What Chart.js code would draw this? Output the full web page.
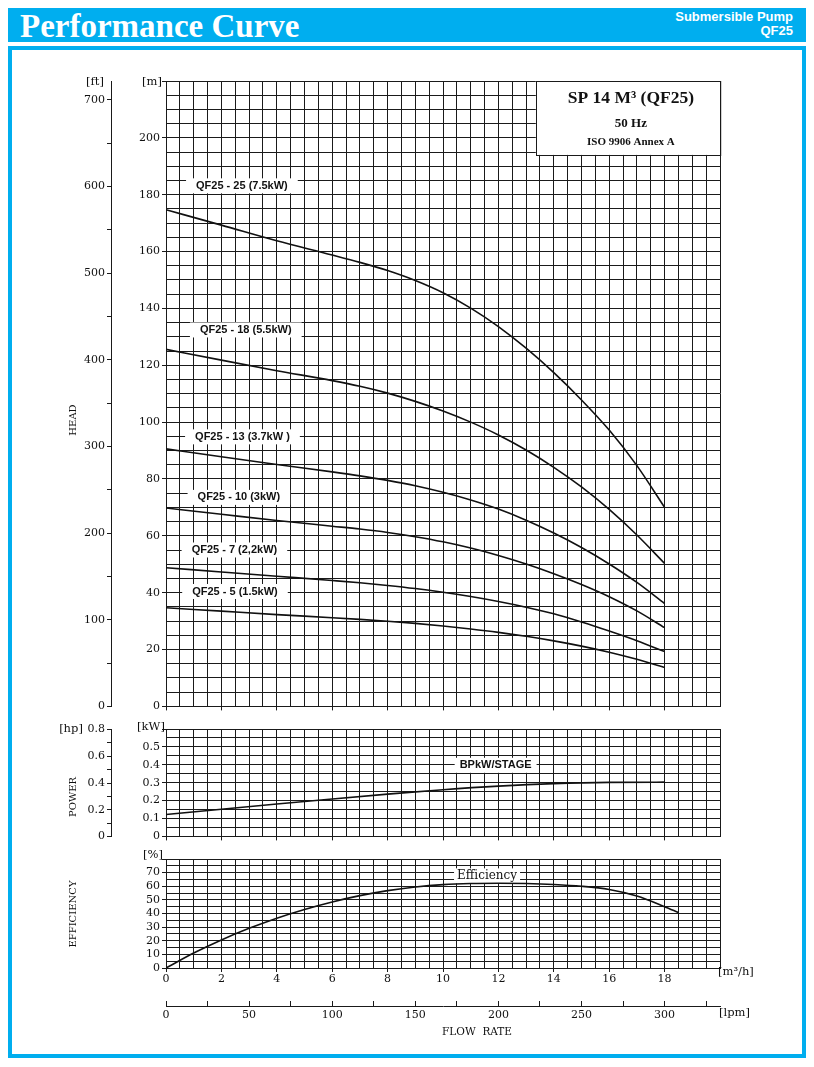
<!DOCTYPE html>
<html>
<head>
<meta charset="utf-8">
<script src="https://cdn.jsdelivr.net/npm/chart.js@4.4.1/dist/chart.umd.min.js"></script>
<style>
body{margin:0;background:#fff;}
#page{position:relative;width:814px;height:1067px;overflow:hidden;}
#bar{position:absolute;left:8px;top:8px;width:798px;height:34px;background:#00aeef;}
#title{position:absolute;left:12px;top:-2px;font:bold 33px "Liberation Serif",serif;color:#fff;line-height:40px;white-space:nowrap;}
#sub{position:absolute;right:13px;top:2px;font:bold 13px "Liberation Sans",Arial,sans-serif;color:#fff;text-align:right;line-height:14px;}
#frame{position:absolute;left:8px;top:46px;width:790px;height:1004px;border:4px solid #00aeef;}
canvas{position:absolute;left:0;}
</style>
</head>
<body>
<div id="page">
  <div id="bar"><div id="title">Performance Curve</div><div id="sub">Submersible Pump<br>QF25</div></div>
  <div id="frame"></div>
  <canvas id="head" width="814" height="655" style="top:60px"></canvas>
  <canvas id="power" width="814" height="125" style="top:720px"></canvas>
  <canvas id="eff" width="814" height="196" style="top:850px"></canvas>
</div>
<script>
// flow rate in m3/h
var flow = [0, 2, 4, 6, 7, 8, 9, 10, 11, 12, 13, 14, 15, 16, 17, 18];
// head in m, one list per pump model
var head25 = [174.7, 169.3, 163.8, 158.8, 156.2, 153.3, 149.8, 145.5, 140.1, 133.6, 126.0, 117.4, 107.8, 97.2, 84.7, 70.0];
var head18 = [125.6, 121.8, 118.1, 114.6, 112.6, 110.2, 107.3, 103.9, 100.0, 95.5, 90.2, 84.1, 77.2, 69.3, 60.3, 50.3];
var head13 = [90.6, 87.8, 85.1, 82.5, 81.1, 79.5, 77.6, 75.3, 72.6, 69.4, 65.5, 61.0, 55.9, 50.1, 43.6, 36.2];
var head10 = [69.8, 67.6, 65.4, 63.4, 62.4, 61.2, 59.7, 57.9, 55.7, 53.1, 50.1, 46.7, 42.9, 38.6, 33.6, 27.7];
var head7 = [48.8, 47.3, 45.8, 44.3, 43.5, 42.55, 41.45, 40.15, 38.65, 36.9, 34.9, 32.6, 29.7, 26.5, 23.1, 19.3];
var head5 = [34.7, 33.5, 32.3, 31.2, 30.6, 29.95, 29.2, 28.3, 27.25, 26.05, 24.65, 23.05, 21.2, 19.05, 16.55, 13.7];
var models = ['QF25 - 25 (7.5kW)', 'QF25 - 18 (5.5kW)', 'QF25 - 13 (3.7kW )', 'QF25 - 10 (3kW)', 'QF25 - 7 (2,2kW)', 'QF25 - 5 (1.5kW)'];

// power per stage (kW)
var powerFlow = [0, 2, 4, 6, 8, 10, 12, 14, 16, 18];
var power = [0.122, 0.152, 0.181, 0.209, 0.236, 0.261, 0.281, 0.295, 0.302, 0.303];

// efficiency (%)
var effFlow = [0, 1, 2, 3, 4, 5, 6, 7, 8, 9, 10, 11, 12, 13, 14, 15, 16, 17, 18, 18.5];
var eff = [0, 11, 20.6, 29.1, 36.6, 43, 48.5, 53.1, 56.8, 59.5, 61.2, 62, 62.2, 62, 61.3, 60, 57.6, 52.8, 45, 40.7];

var M_TO_FT = 3.28084, KW_TO_HP = 0.7457, M3H_TO_LPM = 1000 / 60;

// where the curve names sit (flow, head)
var modelLabelAt = [[2.74, 183.3], [2.88, 132.6], [2.76, 95], [2.63, 73.7], [2.47, 55.2], [2.49, 40.6]];

var ink = '#1a1a1a';
var tickFont = {family: 'DejaVu Serif', size: 11};

function near(v, step) { return Math.abs(v / step - Math.round(v / step)) < 1e-6; }

function xGrid() {
    return {color: ink, tickLength: 4,
        tickColor: function (c) { return (near(c.tick.value, 2) && c.tick.value < 19) ? ink : 'rgba(0,0,0,0)'; }};
}
function yGrid(step) {
    return {color: ink, tickLength: 4,
        tickColor: function (c) { return near(c.tick.value, step) ? ink : 'rgba(0,0,0,0)'; }};
}

function curve(xs, ys) {
    return {data: xs.map(function (x, i) { return {x: x, y: ys[i]}; }),
        borderColor: '#111', borderWidth: 1.6, pointRadius: 0, fill: false,
        cubicInterpolationMode: 'monotone'};
}

function boxLabel(ctx, text, x, y, font, pad) {
    ctx.save();
    ctx.font = font;
    var w = ctx.measureText(text).width;
    ctx.fillStyle = '#fff';
    ctx.fillRect(x - w / 2 - pad, y - 7, w + 2 * pad, 15);
    ctx.fillStyle = '#111';
    ctx.textAlign = 'center';
    ctx.textBaseline = 'middle';
    ctx.fillText(text, x, y + 0.5);
    ctx.restore();
}

function text(ctx, s, x, y, align, font) {
    ctx.save();
    ctx.font = font || '11.5px "DejaVu Serif"';
    ctx.fillStyle = '#111';
    ctx.textAlign = align || 'center';
    ctx.textBaseline = 'middle';
    ctx.fillText(s, x, y);
    ctx.restore();
}

function vtext(ctx, s, x, y) {
    ctx.save();
    ctx.translate(x, y);
    ctx.rotate(-Math.PI / 2);
    text(ctx, s, 0, 0, 'center', '10px "DejaVu Serif"');
    ctx.restore();
}

var common = {responsive: false, animation: false, plugins: {legend: {display: false}, tooltip: {enabled: false}}};

// ---------- HEAD ----------
new Chart(document.getElementById('head'), {
    type: 'line',
    data: {datasets: [head25, head18, head13, head10, head7, head5].map(function (h) { return curve(flow, h); })},
    options: Object.assign({}, common, {
        layout: {padding: {left: 20, right: 94, top: 21, bottom: 0}},
        scales: {
            x: {type: 'linear', min: 0, max: 20, ticks: {stepSize: 0.5, autoSkip: false, display: false},
                grid: xGrid(), border: {color: ink}, afterFit: function (s) { s.height = 6; }},
            y: {min: 0, max: 220, weight: 0,
                ticks: {stepSize: 5, autoSkip: false, padding: 2, color: '#111', font: tickFont,
                    callback: function (v) { return (near(v, 20) && v <= 200) ? v : ''; }},
                grid: yGrid(20), border: {color: ink}, afterFit: function (s) { s.width = 55; }},
            ft: {position: 'left', min: 0, max: 220 * M_TO_FT, weight: 1,
                ticks: {stepSize: 50, includeBounds: false, autoSkip: false, padding: 2, color: '#111', font: tickFont,
                    callback: function (v) { return near(v, 100) ? v : ''; }},
                grid: {drawOnChartArea: false, tickLength: 4, color: ink}, border: {color: ink},
                afterFit: function (s) { s.width = 91; }}
        }
    }),
    plugins: [{
        id: 'headNotes',
        beforeDatasetsDraw: function (chart) {
            var ctx = chart.ctx, x = chart.scales.x, y = chart.scales.y;
            models.forEach(function (m, i) {
                boxLabel(ctx, m, x.getPixelForValue(modelLabelAt[i][0]), y.getPixelForValue(modelLabelAt[i][1]),
                    'bold 11px "Liberation Sans"', 10);
            });
            // info box in the top right corner
            var l = x.getPixelForValue(13.35), b = y.getPixelForValue(194);
            var r = chart.chartArea.right, t = chart.chartArea.top;
            ctx.save();
            ctx.fillStyle = '#fff';
            ctx.fillRect(l, t, r - l, b - t);
            ctx.strokeStyle = ink;
            ctx.lineWidth = 1;
            ctx.strokeRect(Math.round(l) + 0.5, Math.round(t) + 0.5, r - l, Math.round(b - t));
            ctx.restore();
            var cx = (l + r) / 2 + 3;
            text(ctx, 'SP 14 M\u00b3 (QF25)', cx, t + 17, 'center', 'bold 17.5px "Liberation Serif"');
            text(ctx, '50 Hz', cx, t + 43, 'center', 'bold 13px "Liberation Serif"');
            text(ctx, 'ISO 9906 Annex A', cx, t + 61, 'center', 'bold 11px "Liberation Serif"');
        },
        afterDraw: function (chart) {
            var ctx = chart.ctx;
            text(ctx, '[ft]', 95, 22);
            text(ctx, '[m]', 152, 22);
            vtext(ctx, 'HEAD', 73, 360);
        }
    }]
});

// ---------- POWER ----------
new Chart(document.getElementById('power'), {
    type: 'line',
    data: {datasets: [curve(powerFlow, power)]},
    options: Object.assign({}, common, {
        layout: {padding: {left: 20, right: 94, top: 9, bottom: 0}},
        scales: {
            x: {type: 'linear', min: 0, max: 20, ticks: {stepSize: 0.5, autoSkip: false, display: false},
                grid: xGrid(), border: {color: ink}, afterFit: function (s) { s.height = 6; }},
            y: {min: 0, max: 0.6, weight: 0,
                ticks: {stepSize: 0.05, autoSkip: false, padding: 2, color: '#111', font: tickFont,
                    callback: function (v) { return (near(v, 0.1) && v < 0.55) ? (v === 0 ? '0' : v.toFixed(1)) : ''; }},
                grid: yGrid(0.1), border: {color: ink}, afterFit: function (s) { s.width = 55; }},
            hp: {position: 'left', min: 0, max: 0.6 / KW_TO_HP, weight: 1,
                ticks: {stepSize: 0.1, includeBounds: false, autoSkip: false, padding: 2, color: '#111', font: tickFont,
                    callback: function (v) { return near(v, 0.2) ? (v < 0.01 ? '0' : v.toFixed(1)) : ''; }},
                grid: {drawOnChartArea: false, tickLength: 4, color: ink}, border: {color: ink},
                afterFit: function (s) { s.width = 91; }}
        }
    }),
    plugins: [{
        id: 'powerNotes',
        beforeDatasetsDraw: function (chart) {
            boxLabel(chart.ctx, 'BPkW/STAGE', chart.scales.x.getPixelForValue(11.9), chart.scales.y.getPixelForValue(0.4),
                'bold 11px "Liberation Sans"', 5);
        },
        afterDraw: function (chart) {
            var ctx = chart.ctx;
            text(ctx, '[hp]', 71, 9);
            text(ctx, '[kW]', 151, 7);
            vtext(ctx, 'POWER', 73, 77);
        }
    }]
});

// ---------- EFFICIENCY ----------
new Chart(document.getElementById('eff'), {
    type: 'line',
    data: {datasets: [curve(effFlow, eff)]},
    options: Object.assign({}, common, {
        layout: {padding: {left: 111, right: 94, top: 9, bottom: 0}},
        scales: {
            x: {type: 'linear', min: 0, max: 20, weight: 0,
                ticks: {stepSize: 0.5, autoSkip: false, maxRotation: 0, padding: 1, color: '#111', font: tickFont,
                    callback: function (v) { return (near(v, 2) && v < 19) ? v : ''; }},
                grid: xGrid(), border: {color: ink}, afterFit: function (s) { s.height = 38; }},
            lpm: {type: 'linear', position: 'bottom', min: 0, max: 20 * M3H_TO_LPM, weight: 1,
                ticks: {stepSize: 25, includeBounds: false, autoSkip: false, maxRotation: 0, padding: 8, color: '#111', font: tickFont,
                    callback: function (v) { return near(v, 50) ? v : ''; }},
                grid: {drawOnChartArea: false, tickLength: -5, color: ink}, border: {color: ink},
                afterFit: function (s) { s.height = 40; }},
            y: {min: 0, max: 80,
                ticks: {stepSize: 5, autoSkip: false, padding: 2, color: '#111', font: tickFont,
                    callback: function (v) { return (near(v, 10) && v < 75) ? v : ''; }},
                grid: yGrid(10), border: {color: ink}, afterFit: function (s) { s.width = 55; }}
        }
    }),
    plugins: [{
        id: 'effNotes',
        beforeDatasetsDraw: function (chart) {
            boxLabel(chart.ctx, 'Efficiency', chart.scales.x.getPixelForValue(11.59), chart.scales.y.getPixelForValue(68),
                '12px "DejaVu Serif"', 3);
        },
        afterDraw: function (chart) {
            var ctx = chart.ctx;
            text(ctx, '[%]', 153, 5);
            text(ctx, '[m\u00b3/h]', 718, 122, 'left');
            text(ctx, '[lpm]', 719, 163, 'left');
            text(ctx, 'FLOW  RATE', 477, 182, 'center', '10.5px "DejaVu Serif"');
            vtext(ctx, 'EFFICIENCY', 73, 64);
        }
    }]
});
</script>
</body>
</html>
